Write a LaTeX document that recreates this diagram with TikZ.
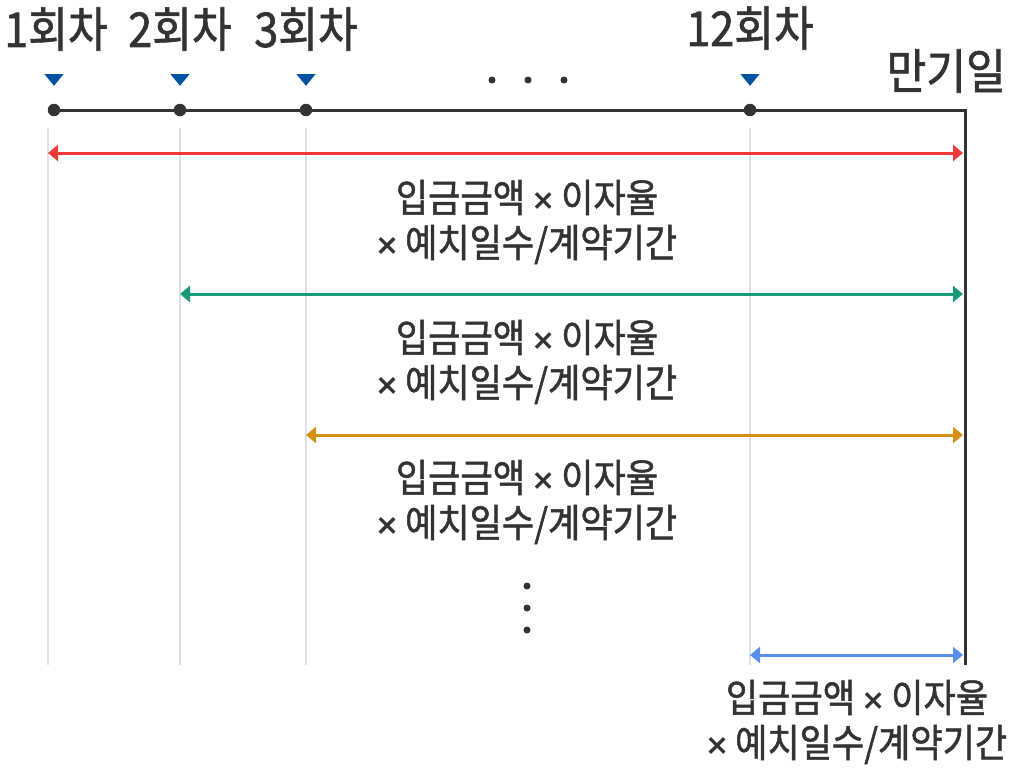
\documentclass[tikz,border=0pt]{standalone}
\usepackage{fontspec}
\setmainfont{Noto Sans CJK KR}[FakeStretch=0.9,FakeBold=1.3]
\newfontfamily\timesfont{Liberation Sans}[FakeBold=2]
\newcommand{\tms}{{\timesfont\fontsize{35}{35}\selectfont ×}}
\usetikzlibrary{arrows.meta}
\definecolor{ink}{HTML}{333333}
\definecolor{gridc}{HTML}{E0E0E6}
\definecolor{markc}{HTML}{0052A3}
\definecolor{cred}{HTML}{EE3A3A}
\definecolor{cgreen}{HTML}{179A7A}
\definecolor{corange}{HTML}{D4900F}
\definecolor{cblue}{HTML}{5A8FF2}
\tikzset{
  lbl/.style={text=ink,font=\fontsize{48}{52}\selectfont,inner sep=0pt},
  formula/.style={text=ink,font=\fontsize{39}{45}\selectfont,align=center,inner sep=0pt},
  dot/.style={circle,fill=ink,inner sep=0pt,minimum size=12.5pt},
  smalldot/.style={circle,fill=ink,inner sep=0pt,minimum size=7pt},
  gridline/.style={draw=gridc,line width=1.5pt},
  span/.style={line width=3pt,{Triangle[length=10pt,width=16pt]}-{Triangle[length=10pt,width=16pt]}},
}
\begin{document}
\begin{tikzpicture}[x=1pt,y=-1pt]
\useasboundingbox (0,0) rectangle (1014,771);
% grid lines
\coordinate (g1t) at (48,128); \coordinate (g1b) at (48,665);
\coordinate (g2t) at (180,128); \coordinate (g2b) at (180,665);
\coordinate (g3t) at (306,128); \coordinate (g3b) at (306,665);
\coordinate (g4t) at (750,128); \coordinate (g4b) at (750,665);
\draw[gridline] (g1t) -- (g1b);
\draw[gridline] (g2t) -- (g2b);
\draw[gridline] (g3t) -- (g3b);
\draw[gridline] (g4t) -- (g4b);
% timeline
\coordinate (start) at (54,110);
\coordinate (corner) at (965,110);
\coordinate (bottom) at (965,665);
\draw[ink,line width=3pt] (start) -- (corner) -- (bottom);
\node[dot] (t1) at (54,110) {};
\node[dot] (t2) at (180,110) {};
\node[dot] (t3) at (306,110) {};
\node[dot] (t4) at (750,110) {};
% markers
\foreach \i/\x in {1/54,2/180,3/306,4/750}{
  \coordinate (m\i) at (\x,80);
  \fill[markc] (m\i) ++(-9.5,-5.8) -- ++(19,0) -- ++(-9.5,11.6) -- cycle;
}
% labels
\node[lbl] (l1) at (56,29) {1회차};
\node[lbl] (l2) at (180,29) {2회차};
\node[lbl] (l3) at (306,29) {3회차};
\node[lbl] (l4) at (750,28) {12회차};
\node[lbl,anchor=east] (due) at (1006,71) {만기일};
% horizontal dots
\node[smalldot] (h1) at (492,80) {};
\node[smalldot] (h2) at (528,80) {};
\node[smalldot] (h3) at (564,80) {};
% spans
\coordinate (a1l) at (48,153); \coordinate (a1r) at (963,153);
\coordinate (a2l) at (180,294); \coordinate (a2r) at (963,294);
\coordinate (a3l) at (306,435); \coordinate (a3r) at (963,435);
\coordinate (a4l) at (750,655); \coordinate (a4r) at (963,655);
\draw[span,cred] (a1l) -- (a1r);
\draw[span,cgreen] (a2l) -- (a2r);
\draw[span,corange] (a3l) -- (a3r);
\draw[span,cblue] (a4l) -- (a4r);
% formulas
\node[formula] (f1) at (527,222) {입금금액 \tms{} 이자율\\\tms{} 예치일수/계약기간};
\node[formula] (f2) at (527,362) {입금금액 \tms{} 이자율\\\tms{} 예치일수/계약기간};
\node[formula] (f3) at (527,502) {입금금액 \tms{} 이자율\\\tms{} 예치일수/계약기간};
\node[formula] (f4) at (857,722) {입금금액 \tms{} 이자율\\\tms{} 예치일수/계약기간};
% vertical dots
\node[smalldot] (v1) at (527,586) {};
\node[smalldot] (v2) at (527,608) {};
\node[smalldot] (v3) at (527,630) {};
\end{tikzpicture}
\end{document}
